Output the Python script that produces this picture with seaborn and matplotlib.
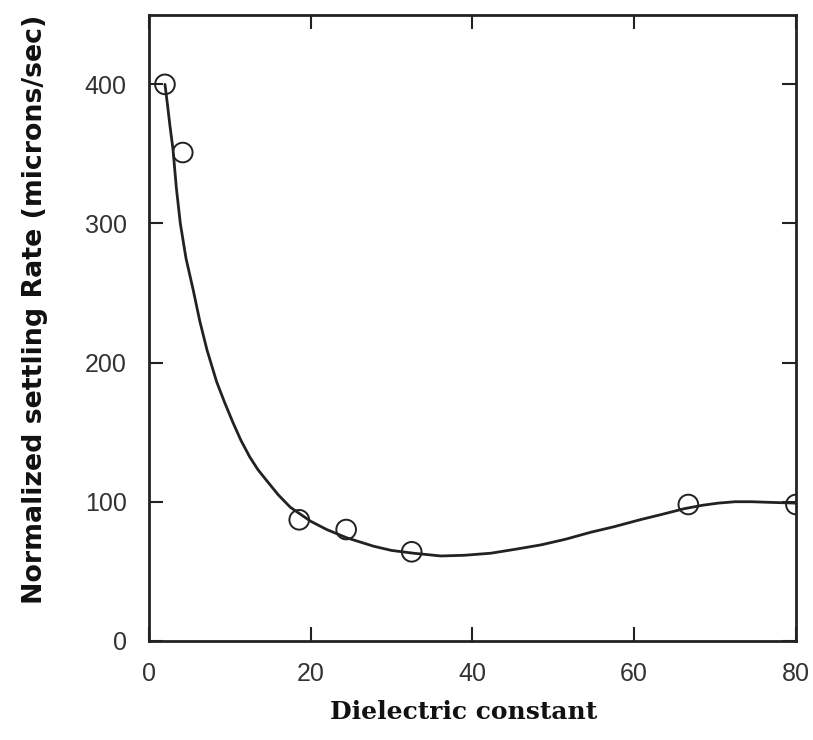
import matplotlib
matplotlib.use('Agg')
import matplotlib.pyplot as plt
import pandas as pd
import seaborn as sns

# measured points
dielectric = [2.0, 4.2, 18.6, 24.4, 32.5, 66.7, 80.0]
settling_rate = [400, 351, 87, 80, 64, 98, 98]

# fitted curve
curve_x = [2.0, 2.3, 2.6, 3.0, 3.4, 3.9, 4.6, 5.5, 6.3, 7.2, 8.4, 9.4, 10.4,
           11.4, 12.5, 13.5, 14.6, 16.0, 17.5, 20.0, 22.0, 24.5, 27.8, 30.0,
           32.7, 36.1, 39.0, 42.3, 45.5, 48.5, 51.5, 54.6, 57.5, 60.7, 63.5,
           66.2, 68.5, 70.4, 72.5, 74.5, 77.0, 80.0]
curve_y = [400, 386, 371, 353, 326, 300, 275, 252, 230, 209, 186, 171, 157,
           144, 132, 123, 115, 105, 96, 86, 80, 74, 68, 65,
           63, 61, 61.5, 63, 66, 69, 73, 78, 82, 87, 91,
           95, 97.5, 99, 100, 100, 99.5, 99]

pts = pd.DataFrame({'x': dielectric, 'y': settling_rate})
fit = pd.DataFrame({'x': curve_x, 'y': curve_y})

sns.set_theme(style='ticks')
plt.rcParams['font.family'] = ['Liberation Sans', 'DejaVu Sans']

fig = plt.figure(figsize=(8.13, 7.40), dpi=100)
ax = fig.add_axes([0.183, 0.134, 0.796, 0.846])

sns.lineplot(data=fit, x='x', y='y', sort=False, estimator=None,
             color='#222222', linewidth=2.0, ax=ax)
sns.scatterplot(data=pts, x='x', y='y', s=200, facecolor='none',
                edgecolor='#222222', linewidth=1.4, ax=ax, zorder=3)

ax.set_xlim(0, 80)
ax.set_ylim(0, 450)
ax.set_xticks([0, 20, 40, 60, 80])
ax.set_yticks([0, 100, 200, 300, 400])
ax.tick_params(direction='in', length=10, width=1.5, top=True, right=True,
               labelsize=18, labelcolor='#333333', color='#222222')
ax.tick_params(axis='x', pad=15)
ax.tick_params(axis='y', pad=16)
for s in ax.spines.values():
    s.set_linewidth(2.0)
    s.set_color('#222222')

ax.set_xlabel('Dielectric constant', fontsize=18, fontweight='bold',
              family='DejaVu Serif', labelpad=10, color='#111111')
ax.xaxis.set_label_coords(0.486, -0.095)
ax.set_ylabel('Normalized settling Rate (microns/sec)', fontsize=19.3,
              fontweight='bold', family='DejaVu Sans', labelpad=24,
              color='#111111')
ax.yaxis.set_label_coords(-0.155, 0.529)

fig.savefig('out.png', dpi=100)
plt.close()
